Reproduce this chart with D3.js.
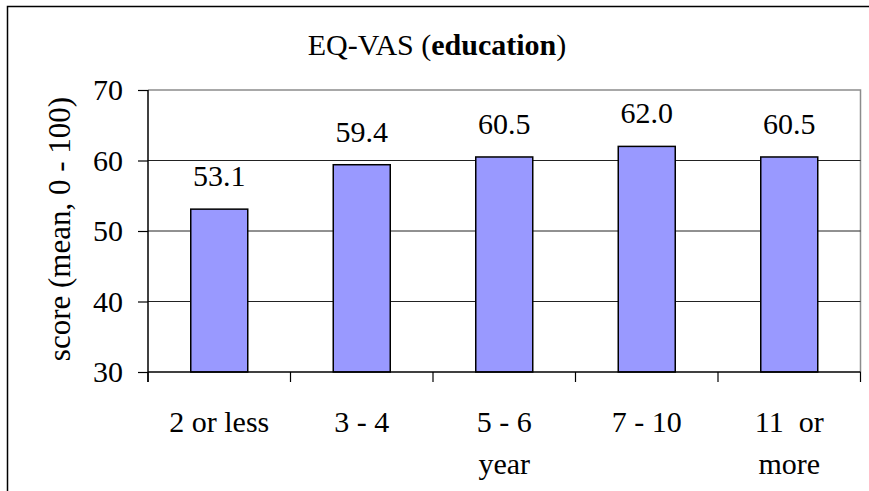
<!DOCTYPE html>
<html>
<head>
<meta charset="utf-8">
<script src="https://cdn.jsdelivr.net/npm/d3@7"></script>
<style>
  html, body { margin: 0; padding: 0; background: #fff; }
  svg { display: block; }
  text { font-family: "Liberation Serif", "Times New Roman", serif; fill: #000; }
</style>
</head>
<body>
<svg id="chart" width="869" height="491"></svg>
<script>
// Education groups (years of schooling), with line breaks for wrapped labels
const categories = ["2 or less", "3 - 4", "5 - 6 year", "7 - 10", "11  or more"];
const categoryLines = [["2 or less"], ["3 - 4"], ["5 - 6", "year"], ["7 - 10"], ["11  or", "more"]];
// Mean EQ-VAS score per group
const scores = [53.1, 59.4, 60.5, 62.0, 60.5];
const yTicks = [30, 40, 50, 60, 70];

const svg = d3.select("#chart");
const plot = { left: 148, right: 860.5, top: 90, bottom: 372 };
const fontSize = 30;

// Outer chart frame (extends past the right and bottom of the view)
svg.append("rect")
  .attr("x", 7.5).attr("y", 6.5)
  .attr("width", 900).attr("height", 520)
  .attr("fill", "#fff").attr("stroke", "#000").attr("stroke-width", 1.5);

const x = d3.scaleBand().domain(categories).range([plot.left, plot.right]).paddingInner(0.6).paddingOuter(0.3);
const y = d3.scaleLinear().domain([30, 70]).range([plot.bottom, plot.top]);

// Title
const title = svg.append("text")
  .attr("x", 437).attr("y", 55)
  .attr("text-anchor", "middle")
  .style("font-size", fontSize + "px");
title.append("tspan").text("EQ-VAS (");
title.append("tspan").style("font-weight", "bold").text("education");
title.append("tspan").text(")");

// Plot area frame (top and right edges in gray)
svg.append("path")
  .attr("d", `M${plot.left},${y(70)}H${plot.right}V${plot.bottom}`)
  .attr("fill", "none").attr("stroke", "#8c8c8c").attr("stroke-width", 1.5);

// Horizontal gridlines
svg.append("g").selectAll("line")
  .data(yTicks.filter(t => t > 30 && t < 70))
  .join("line")
  .attr("x1", plot.left).attr("x2", plot.right)
  .attr("y1", d => y(d)).attr("y2", d => y(d))
  .attr("stroke", "#222").attr("stroke-width", 1);

// Bars
svg.append("g").selectAll("rect")
  .data(scores)
  .join("rect")
  .attr("x", (d, i) => x(categories[i]))
  .attr("width", x.bandwidth())
  .attr("y", d => y(d))
  .attr("height", d => y(30) - y(d))
  .attr("fill", "#9999ff")
  .attr("stroke", "#000").attr("stroke-width", 1.5);

// Value labels
svg.append("g").selectAll("text")
  .data(scores)
  .join("text")
  .attr("x", (d, i) => x(categories[i]) + x.bandwidth() / 2)
  .attr("y", d => y(d) - 23)
  .attr("text-anchor", "middle")
  .style("font-size", fontSize + "px")
  .text(d => d.toFixed(1));

// Y axis
const yAxis = svg.append("g")
  .attr("transform", `translate(${plot.left},0)`)
  .call(d3.axisLeft(y).tickValues(yTicks).tickSize(10).tickPadding(15).tickFormat(d3.format("d")));
yAxis.select(".domain").attr("d", `M0,${plot.top}V${plot.bottom + 10}`).attr("stroke", "#000").attr("stroke-width", 1.5);
yAxis.selectAll(".tick line").attr("stroke", "#000").attr("stroke-width", 1.2);
yAxis.selectAll(".tick text")
  .style("font-size", fontSize + "px")
  .style("font-family", "'Liberation Serif', 'Times New Roman', serif")
  .attr("dy", "0.33em");

// X axis: category boundaries as tick marks
const xAxis = svg.append("g").attr("transform", `translate(0,${plot.bottom})`);
xAxis.append("line")
  .attr("x1", plot.left).attr("x2", plot.right)
  .attr("stroke", "#000").attr("stroke-width", 1.5);
const step = x.step();
xAxis.selectAll("line.bound")
  .data(d3.range(categories.length + 1))
  .join("line").attr("class", "bound")
  .attr("x1", i => plot.left + i * step).attr("x2", i => plot.left + i * step)
  .attr("y1", 0).attr("y2", 10)
  .attr("stroke", "#000").attr("stroke-width", 1.2);

// Category labels (wrapped onto two lines where needed)
const labels = svg.append("g").selectAll("text")
  .data(categoryLines)
  .join("text")
  .attr("text-anchor", "middle")
  .style("font-size", fontSize + "px")
  .style("white-space", "pre")
  .attr("transform", (d, i) => `translate(${x(categories[i]) + x.bandwidth() / 2},432)`);
labels.selectAll("tspan")
  .data(d => d)
  .join("tspan")
  .attr("x", 0)
  .attr("y", (d, j) => j * 42)
  .text(d => d);

// Y axis title
svg.append("text")
  .attr("transform", `translate(70,229) rotate(-90)`)
  .attr("text-anchor", "middle")
  .style("font-size", "31px")
  .text("score (mean, 0 - 100)");
</script>
</body>
</html>
